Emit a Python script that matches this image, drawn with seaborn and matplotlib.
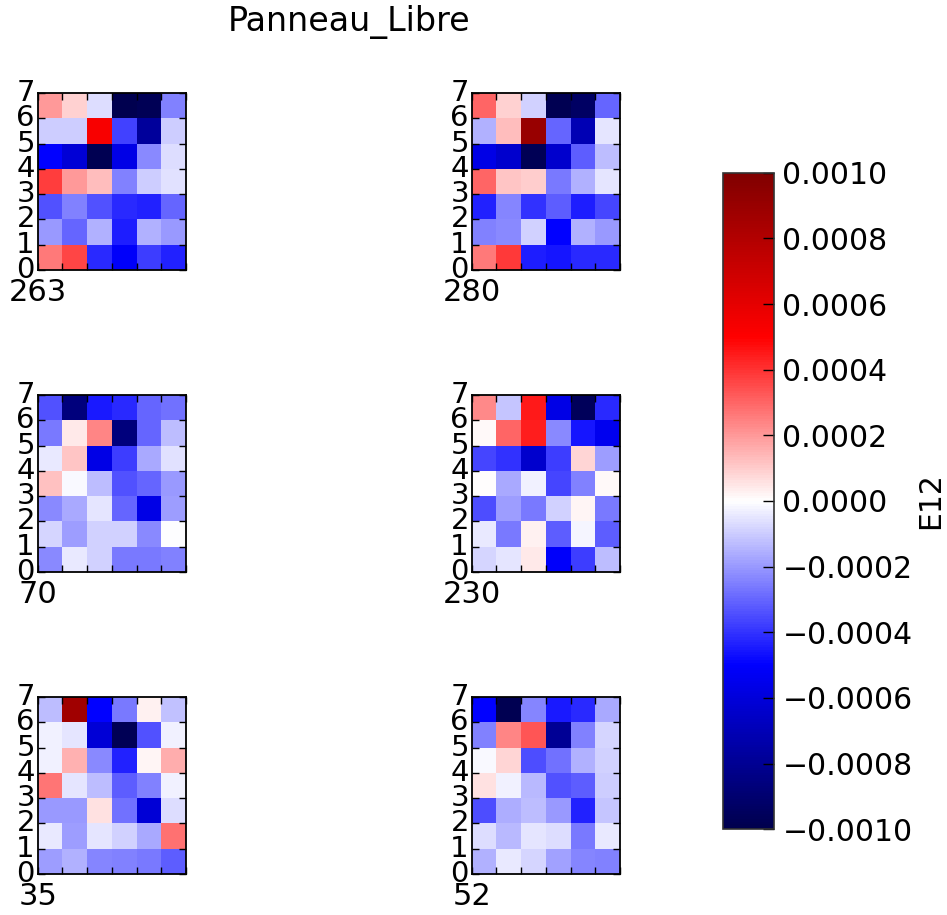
import numpy as np
import pandas as pd
import matplotlib
matplotlib.use("Agg")
import matplotlib.pyplot as plt
import seaborn as sns
from matplotlib.ticker import FuncFormatter

# Values in units of 1e-4, rows listed top (row 6) to bottom (row 0), 6 columns each
names = ["263", "280", "70", "230", "35", "52"]

p263 = [[2.0, 0.9, -0.65, -9.9, -9.7, -2.5],
        [-1.0, -1.0, 5.3, -3.75, -7.8, -1.0],
        [-5.0, -6.1, -9.8, -5.7, -2.3, -0.7],
        [3.75, 2.0, 1.3, -2.5, -1.0, -0.6],
        [-3.4, -2.5, -3.4, -4.2, -4.3, -3.0],
        [-2.0, -3.0, -1.5, -4.4, -1.5, -2.0],
        [2.6, 3.6, -4.2, -5.1, -3.8, -4.3]]

p280 = [[3.0, 0.9, -0.9, -9.8, -9.3, -3.0],
        [-1.5, 1.3, 9.0, -3.0, -7.1, -0.5],
        [-5.7, -6.4, -9.7, -6.4, -3.2, -1.3],
        [3.0, 1.1, 1.0, -2.6, -1.5, -0.5],
        [-4.3, -2.4, -4.0, -3.2, -4.4, -3.6],
        [-2.5, -2.3, -0.9, -5.0, -1.5, -2.0],
        [2.6, 3.9, -4.4, -4.6, -4.2, -4.2]]

p70 = [[-3.4, -8.6, -4.5, -4.2, -3.0, -2.8],
       [-2.6, 0.4, 2.4, -8.6, -3.0, -1.3],
       [-0.4, 1.1, -5.7, -3.8, -1.7, -0.6],
       [1.2, -0.15, -1.3, -3.4, -3.0, -2.0],
       [-2.3, -1.7, -0.5, -3.0, -5.7, -1.9],
       [-0.8, -1.9, -0.9, -0.9, -2.3, -0.05],
       [-2.3, -0.4, -0.9, -2.6, -2.6, -2.5]]

p230 = [[2.3, -1.1, 4.5, -5.7, -9.6, -4.2],
        [0.1, 3.0, 4.4, -2.3, -4.6, -5.4],
        [-3.6, -4.0, -6.4, -3.8, 0.8, -1.9],
        [0.0, -1.7, -0.3, -3.6, -2.5, 0.1],
        [-3.5, -1.9, -2.6, -0.9, 0.2, -2.6],
        [-0.4, -2.6, 0.3, -3.2, -0.2, -3.2],
        [-0.8, -0.5, 0.4, -5.1, -3.8, -1.3]]

p35 = [[-1.3, 8.7, -5.0, -2.6, 0.3, -1.2],
       [-0.3, -0.5, -6.1, -9.7, -3.4, -0.3],
       [-0.3, 1.5, -2.3, -4.3, 0.2, 1.6],
       [2.7, -0.5, -1.3, -3.2, -2.5, -0.3],
       [-2.0, -2.0, 0.6, -2.8, -6.1, -0.7],
       [-0.4, -1.9, -0.5, -0.9, -1.7, 2.8],
       [-1.9, -1.5, -2.4, -2.5, -2.6, -3.2]]

p52 = [[-5.0, -9.8, -2.4, -4.5, -4.2, -1.7],
       [-2.5, 2.4, 3.3, -7.9, -2.5, -0.8],
       [-0.1, 0.8, -3.5, -2.8, -1.5, -0.9],
       [0.6, -0.3, -1.4, -3.4, -3.2, -1.0],
       [-3.5, -1.6, -1.3, -2.0, -4.3, -1.1],
       [-0.7, -1.4, -0.5, -0.7, -2.6, -0.4],
       [-1.5, -0.4, -0.8, -1.8, -2.4, -2.5]]

panels = [p263, p280, p70, p230, p35, p52]
ytick_labels = ["7", "6", "5", "4", "3", "2", "1", "0"]
cbar_ticks = [-0.001, -0.0008, -0.0006, -0.0004, -0.0002, 0.0,
              0.0002, 0.0004, 0.0006, 0.0008, 0.001]

FS = 21
plt.rcParams["font.family"] = ["DejaVu Sans"]

fig = plt.figure(figsize=(9.47, 9.15), dpi=100)
W, H = 947.0, 915.0

col_left = [37.7, 471.7]
row_top = [93.0, 395.0, 697.0]
aw, ah = 148.3, 177.0

mappable = None
for i, (name, vals) in enumerate(zip(names, panels)):
    r, c = divmod(i, 2)
    x0 = col_left[c] / W
    y0 = (H - row_top[r] - ah) / H
    ax = fig.add_axes([x0, y0, aw / W, ah / H])
    df = pd.DataFrame(np.array(vals) * 1e-4)
    sns.heatmap(df, ax=ax, cmap="seismic", vmin=-0.001, vmax=0.001,
                cbar=False, square=False)
    mappable = ax.collections[0]
    ax.set_xticks(range(7))
    ax.set_xticklabels([name] + [""] * 6, rotation=0, fontsize=22)
    ax.set_yticks(range(8))
    ax.set_yticklabels(ytick_labels, rotation=0, fontsize=FS)
    ax.set_xlim(0, 6)
    ax.set_ylim(7, 0)
    for sp in ax.spines.values():
        sp.set_visible(True)
        sp.set_color("black")
        sp.set_linewidth(1.3)
    ax.tick_params(direction="in", length=5, width=1, color="black",
                   top=True, right=True, bottom=True, left=True,
                   labeltop=False, labelright=False)
    ax.tick_params(axis="x", pad=6)
    ax.tick_params(axis="y", pad=2)
    ax.set_xlabel("")
    ax.set_ylabel("")

cax = fig.add_axes([722.7 / W, (H - 829.3) / H, 51.3 / W, (829.3 - 172.7) / H])
cb = fig.colorbar(mappable, cax=cax, ticks=cbar_ticks)

def fmt(x, pos):
    if abs(x) < 1e-12:
        x = 0.0
    return f"{x:.4f}".replace("-", "\u2212")

cb.ax.yaxis.set_major_formatter(FuncFormatter(fmt))
cb.ax.tick_params(direction="in", length=8, width=1, labelsize=21.5, pad=6)
cb.outline.set_linewidth(1.2)
cb.outline.set_edgecolor("#333333")
cb.set_label("E12", fontsize=21.5, labelpad=3)

fig.text(349 / W, 1 - 22 / H, "Panneau_Libre", fontsize=24, ha="center", va="center")

fig.savefig("out.png", dpi=100)
